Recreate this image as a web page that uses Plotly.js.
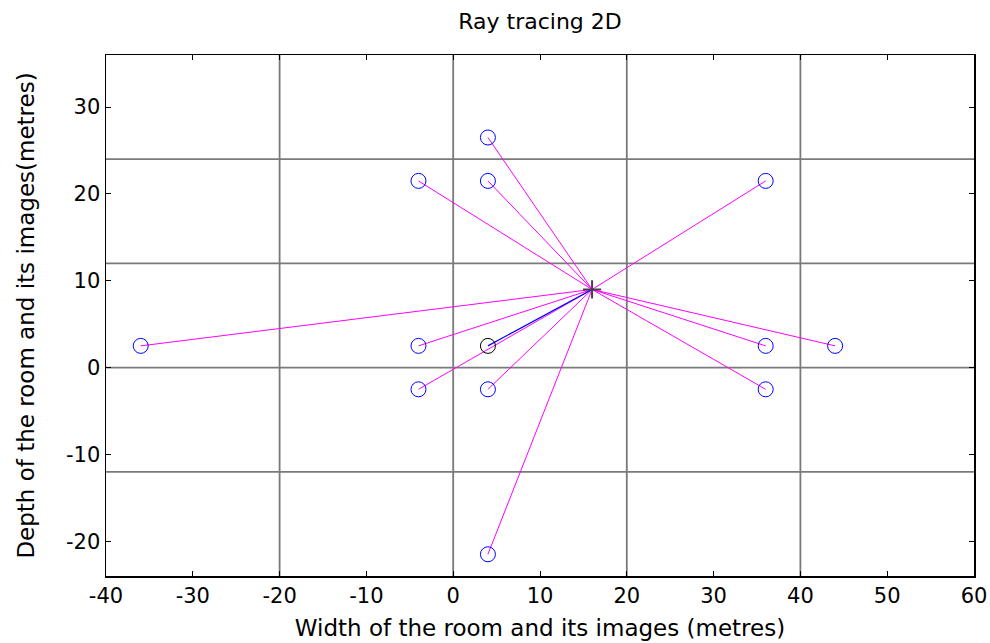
<!DOCTYPE html>
<html>
<head>
<meta charset="utf-8">
<script src="https://cdn.plot.ly/plotly-3.0.1.min.js"></script>
<style>html,body{margin:0;padding:0;background:#fff;}#chart{width:990px;height:643px;}</style>
</head>
<body>
<div id="chart"></div>
<script>
// Room walls (room 20 m wide, 12 m deep) and its mirrored copies
const wallX = [-20, 0, 20, 40];
const wallY = [-12, 0, 12, 24];

// Source and receiver
const sourceX = [4];
const sourceY = [2.5];
const receiverX = [16];
const receiverY = [9];

// Image sources
const imageX = [-36, -4, -4, -4, 4, 4, 4, 4, 36, 36, 36, 44];
const imageY = [2.5, 21.5, 2.5, -2.5, 26.5, 21.5, -2.5, -21.5, 21.5, 2.5, -2.5, 2.5];

// Axis ticks
const xTicks = [-40, -30, -20, -10, 0, 10, 20, 30, 40, 50, 60];
const yTicks = [-20, -10, 0, 10, 20, 30];

// rays from each image to the receiver
const rayX = [], rayY = [];
for (let i = 0; i < imageX.length; i++) {
  rayX.push(imageX[i], receiverX[0], null);
  rayY.push(imageY[i], receiverY[0], null);
}

const shapes = [];
wallX.forEach(v => shapes.push({type: 'line', xref: 'x', yref: 'paper', x0: v, x1: v, y0: 0, y1: 1,
  line: {color: '#7a7a7a', width: 1.8}, layer: 'below'}));
wallY.forEach(v => shapes.push({type: 'line', xref: 'paper', yref: 'y', x0: 0, x1: 1, y0: v, y1: v,
  line: {color: '#7a7a7a', width: 1.8}, layer: 'below'}));

const traces = [
  {x: rayX, y: rayY, mode: 'lines', line: {color: '#ff00ff', width: 1}, hoverinfo: 'skip'},
  {x: [sourceX[0], receiverX[0]], y: [sourceY[0], receiverY[0]], mode: 'lines', line: {color: '#0000ff', width: 1.2}},
  {x: imageX, y: imageY, mode: 'markers', marker: {symbol: 'circle-open', size: 15, color: '#0000ff', line: {width: 1}}},
  {x: sourceX, y: sourceY, mode: 'markers', marker: {symbol: 'circle-open', size: 15, color: '#000000', line: {width: 1}}},
  {x: receiverX, y: receiverY, mode: 'markers', marker: {symbol: 'cross-thin-open', size: 13, color: '#444444', line: {width: 2}}}
];

const font = {family: '"DejaVu Sans", sans-serif', color: '#000'};

const layout = {
  width: 990, height: 643,
  margin: {l: 106, r: 16, t: 55, b: 67},
  paper_bgcolor: '#fff', plot_bgcolor: '#fff',
  showlegend: false,
  font: font,
  title: {text: 'Ray tracing 2D', font: {family: font.family, size: 22, color: '#000'}, x: 0.5, xref: 'paper', y: 1 - 21/643, yanchor: 'middle'},
  xaxis: {
    range: [-40, 60], tickvals: xTicks, ticktext: xTicks.map(String),
    showgrid: false, zeroline: false, showline: true, linecolor: '#000', linewidth: 1.5, mirror: 'ticks',
    ticks: 'inside', ticklen: 5, tickcolor: '#000', tickwidth: 1,
    tickfont: {family: font.family, size: 21, color: '#000'},
    title: {text: 'Width of the room and its images (metres)', font: {family: font.family, size: 23, color: '#000'}, standoff: 13}
  },
  yaxis: {
    range: [-24, 36], tickvals: yTicks, ticktext: yTicks.map(String),
    showgrid: false, zeroline: false, showline: true, linecolor: '#000', linewidth: 1.5, mirror: 'ticks',
    ticks: 'inside', ticklen: 5, tickcolor: '#000', tickwidth: 1,
    tickfont: {family: font.family, size: 21, color: '#000'},
    title: {text: 'Depth of the room and its images(metres)', font: {family: font.family, size: 23, color: '#000'}, standoff: 25}
  },
  shapes: shapes
};

Plotly.newPlot('chart', traces, layout, {displayModeBar: false, staticPlot: true});
</script>
</body>
</html>
